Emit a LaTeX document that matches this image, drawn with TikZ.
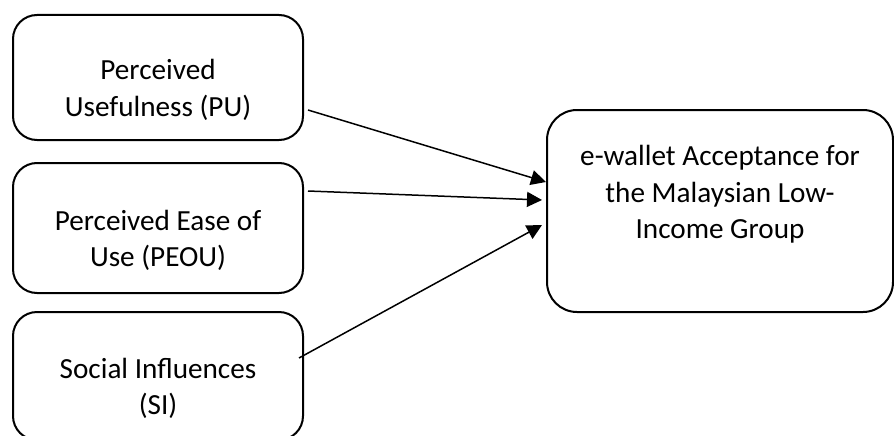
\documentclass[tikz,border=0pt]{standalone}
\usepackage{fontspec}
\setmainfont{Carlito}
\usetikzlibrary{arrows.meta}

\begin{document}
\begin{tikzpicture}[x=0.5pt, y=0.5pt,
                    factor/.style= {draw, line width=1pt, rounded corners=12pt,
                                    minimum width=145pt, align=center,
                                    font=\fontsize{14.6}{18.3}\selectfont},
                    down/.style=   {execute at begin node={\rule{0pt}{#1}}},
                    up/.style=     {execute at end node={\rule[-#1]{0pt}{0pt}}},
                    outcome/.style={factor, rounded corners=15pt,
                                    minimum width=173pt, minimum height=101pt},
                    link/.style=   {line width=0.75pt, -{Triangle[length=7.5pt, width=7.5pt]}}]
\useasboundingbox (0,0) rectangle (894,435);

% three factors on the left, one outcome on the right
\node[factor, down=40.9pt, minimum height=62.5pt] (pu)   at (158,357.5) {Perceived\\Usefulness (PU)};
\node[factor, down=40.9pt, minimum height=65pt]   (peou) at (158,207)   {Perceived Ease of\\Use (PEOU)};
\node[factor, down=40.9pt, minimum height=64pt]   (si)   at (158,59)    {Social Influences\\(SI)};
\node[outcome, up=19pt]                           (acc)  at (720,224)   {e-wallet Acceptance for\\the Malaysian Low-\\Income Group};

\draw[link] ([shift={(4,-32.5)}]pu.east)  -- ([shift={(0,29)}]acc.west);
\draw[link] ([shift={(4,37)}]peou.east)   -- ([shift={(-4,11)}]acc.west);
\draw[link] ([shift={(-5,18)}]si.east)    -- ([shift={(-4,-14)}]acc.west);
\end{tikzpicture}
\end{document}
